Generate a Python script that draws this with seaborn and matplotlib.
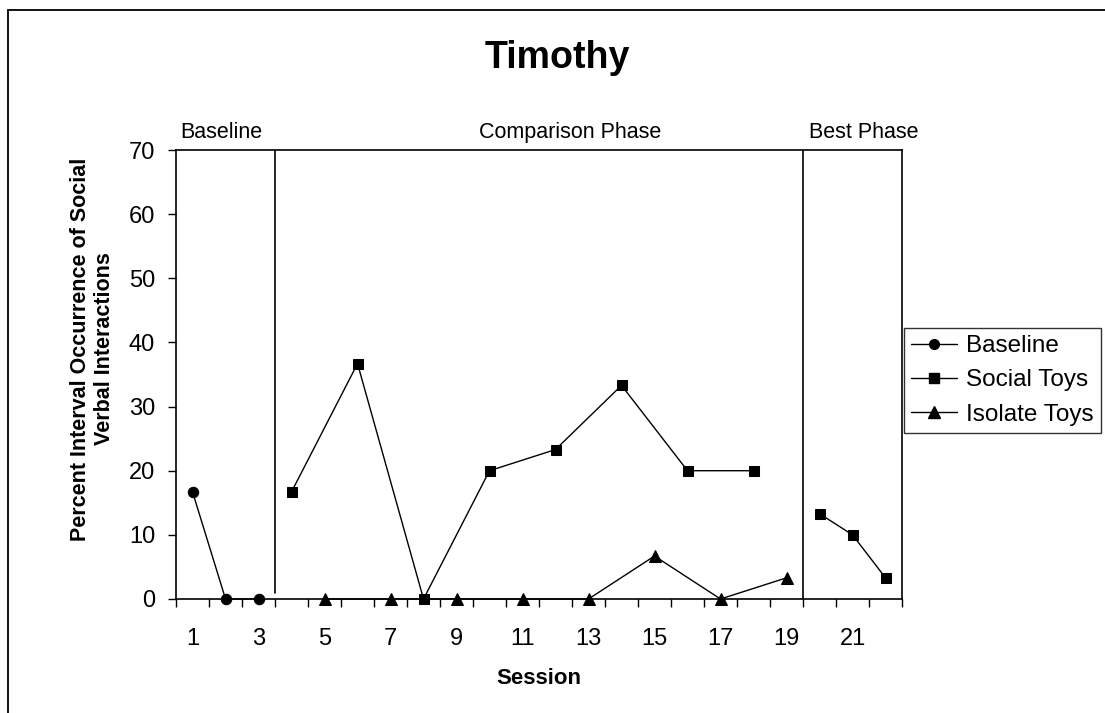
import numpy as np
import pandas as pd
import matplotlib.pyplot as plt
import seaborn as sns
from matplotlib.lines import Line2D
from matplotlib.patches import Rectangle

sns.set_style("white")
plt.rcParams['font.family'] = ['Liberation Sans', 'DejaVu Sans']
plt.rcParams['text.color'] = 'black'
plt.rcParams['axes.labelcolor'] = 'black'
plt.rcParams['xtick.color'] = 'black'
plt.rcParams['ytick.color'] = 'black'

# data
baseline_sessions = [1, 2, 3]
baseline_values = [16.7, 0, 0]

social_comp_sessions = [4, 6, 8, 10, 12, 14, 16, 18]
social_comp_values = [16.7, 36.7, 0, 20, 23.3, 33.3, 20, 20]

social_best_sessions = [20, 21, 22]
social_best_values = [13.3, 10, 3.3]

isolate_sessions = [5, 7, 9, 11, 13, 15, 17, 19]
isolate_values = [0, 0, 0, 0, 0, 6.7, 0, 3.3]

phase_names = ["Baseline", "Comparison Phase", "Best Phase"]
phase_label_x = [1.86, 12.44, 21.35]
phase_bounds = [3.5, 19.5]
x_ticklabels = list(range(1, 23, 2))

fig = plt.figure(figsize=(11.05, 7.13), dpi=100)
ax = fig.add_axes([0.1593, 0.1599, 0.8163 - 0.1593, 0.7896 - 0.1599])

# outer chart border (cut off at right and bottom)
fig.patches.append(Rectangle((8 / 1105, -0.05), 1.2, 1 - 10 / 713 + 0.05,
                             transform=fig.transFigure, fill=False,
                             edgecolor='black', lw=1.3))

common = dict(color='black', linewidth=1, markeredgecolor='black',
              clip_on=False, legend=False, ax=ax)
sns.lineplot(x=baseline_sessions, y=baseline_values, marker='o', markersize=7.5, **common)
sns.lineplot(x=social_comp_sessions, y=social_comp_values, marker='s', markersize=7, **common)
sns.lineplot(x=social_best_sessions, y=social_best_values, marker='s', markersize=7, **common)
sns.lineplot(x=isolate_sessions, y=isolate_values, marker='^', markersize=8.5, **common)

# phase change lines
ax.axvline(phase_bounds[0], ymin=0.013, ymax=1, color='black', lw=1.2)
ax.axvline(phase_bounds[1], color='black', lw=1.2)

ax.set_xlim(0.5, 22.5)
ax.set_ylim(0, 70)
ax.set_yticks(range(0, 71, 10))
ax.set_xticks(x_ticklabels)
ax.set_xticks(np.arange(0.5, 23, 1), minor=True)
ax.tick_params(axis='x', which='major', length=0, pad=21, labelsize=17)
ax.tick_params(axis='x', which='minor', length=6, width=1, direction='out')
ax.tick_params(axis='y', which='major', length=6, width=1, direction='out', pad=9,
               labelsize=17)
ax.xaxis.set_ticks_position('bottom')
ax.yaxis.set_ticks_position('left')
for s in ax.spines.values():
    s.set_color('black')
    s.set_linewidth(1.2)

ax.set_xlabel("Session", fontsize=16, fontweight='bold', labelpad=13)
ax.set_ylabel("Percent Interval Occurrence of Social\nVerbal Interactions",
              fontsize=15.5, fontweight='bold', labelpad=10)
ax.yaxis.label.set_y(0.557)

fig.text(557 / 1105, 1 - 58 / 713, "Timothy", ha='center', va='center',
         fontsize=27, fontweight='bold')

# phase labels
for name, px in zip(phase_names, phase_label_x):
    ax.text(px, 71.9, name, ha='center', va='baseline', fontsize=15.5)

handles = [
    Line2D([], [], color='black', lw=1, marker='o', markersize=7),
    Line2D([], [], color='black', lw=1, marker='s', markersize=6.5),
    Line2D([], [], color='black', lw=1, marker='^', markersize=8),
]
leg = fig.legend(handles, ["Baseline", "Social Toys", "Isolate Toys"],
                 loc='upper left', bbox_to_anchor=(904 / 1105, 1 - 328 / 713),
                 frameon=True, fancybox=False, fontsize=17.5, handlelength=1.9,
                 borderpad=0.3, labelspacing=0.5, handletextpad=0.35,
                 borderaxespad=0)
leg.get_frame().set_edgecolor('black')
leg.get_frame().set_linewidth(1)

fig.savefig("out.png", dpi=100)
